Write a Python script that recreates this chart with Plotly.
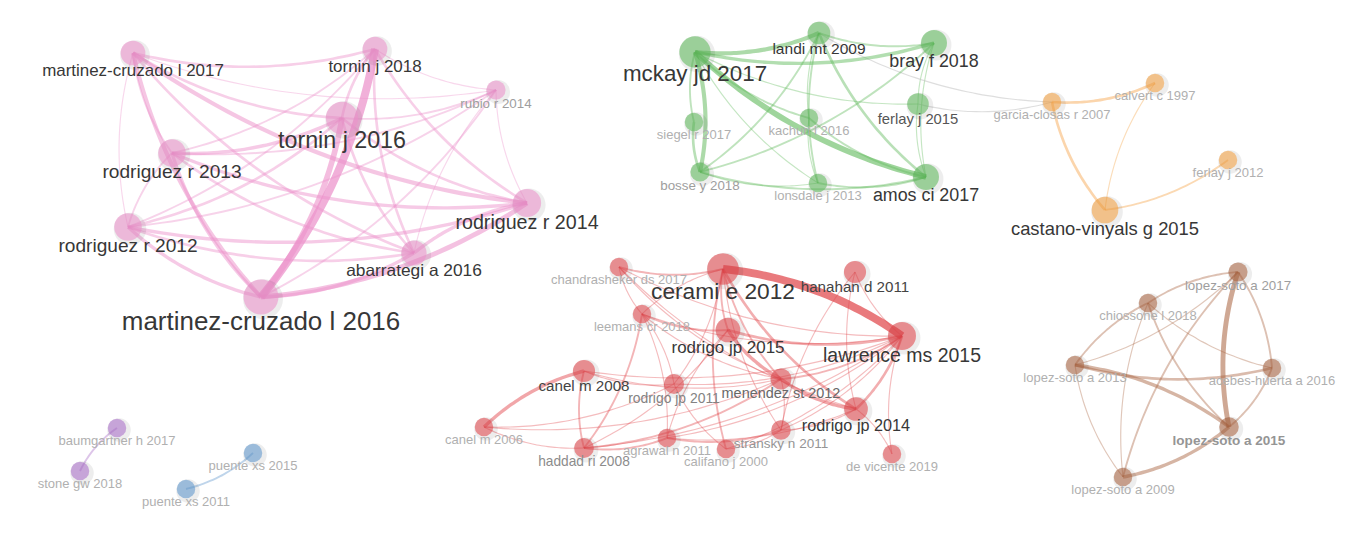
#!/usr/bin/env python3
# -*- coding: utf-8 -*-
"""
Mapa de co-citação (estilo VOSviewer) - referências agrupadas por cluster
"""

import numpy as np
import plotly.graph_objects as go

# Nós do mapa: id, rótulo, posição (coordenadas do mapa), peso e cluster
node_ids = [
    'mc17', 't18', 'ru14', 't16', 'r13', 'r14', 'r12', 'a16', 'm16',
    'mck', 'lan', 'bra', 'fe15', 'sie', 'kac', 'bos', 'lon', 'amo',
    'gar', 'cal', 'fe12', 'cas',
    'cha', 'cer', 'han', 'lee', 'rj15', 'law', 'ca08', 'rj11', 'men',
    'rj14', 'ca06', 'had', 'agr', 'cf00', 'str', 'dev',
    'ls17', 'chi', 'ls13', 'ach', 'ls15', 'ls09',
    'bau', 'sto', 'pu15', 'pu11'
]

node_labels = [
    'martinez-cruzado l 2017', 'tornin j 2018', 'rubio r 2014', 'tornin j 2016',
    'rodriguez r 2013', 'rodriguez r 2014', 'rodriguez r 2012', 'abarrategi a 2016',
    'martinez-cruzado l 2016',
    'mckay jd 2017', 'landi mt 2009', 'bray f 2018', 'ferlay j 2015', 'siegel r 2017',
    'kachuri l 2016', 'bosse y 2018', 'lonsdale j 2013', 'amos ci 2017',
    'garcia-closas r 2007', 'calvert c 1997', 'ferlay j 2012', 'castano-vinyals g 2015',
    'chandrasheker ds 2017', 'cerami e 2012', 'hanahan d 2011', 'leemans cr 2018',
    'rodrigo jp 2015', 'lawrence ms 2015', 'canel m 2008', 'rodrigo jp 2011',
    'menendez st 2012', 'rodrigo jp 2014', 'canel m 2006', 'haddad ri 2008',
    'agrawal n 2011', 'califano j 2000', 'stransky n 2011', 'de vicente 2019',
    'lopez-soto a 2017', 'chiossone l 2018', 'lopez-soto a 2013', 'acebes-huerta a 2016',
    'lopez-soto a 2015', 'lopez-soto a 2009',
    'baumgartner h 2017', 'stone gw 2018', 'puente xs 2015', 'puente xs 2011'
]

node_x = [
    133, 375, 496, 342, 172, 527, 128, 414, 261,
    695, 819, 934, 918, 694, 809, 700, 818, 926,
    1052, 1155, 1228, 1105,
    619, 723, 855, 642, 728, 902, 584, 674, 781,
    856, 484, 584, 667, 726, 781, 892,
    1238, 1148, 1075, 1272, 1229, 1123,
    117, 80, 253, 186
]

node_y = [
    53, 49, 90, 118, 153, 203, 227, 253, 297,
    52, 33, 43, 104, 122, 118, 172, 183, 177,
    102, 83, 160, 210,
    267, 269, 272, 314, 330, 336, 371, 384, 379,
    409, 427, 448, 438, 449, 430, 454,
    272, 303, 365, 368, 427, 477,
    428, 471, 453, 489
]

node_weight = [
    50, 50, 30, 85, 62, 65, 62, 52, 100,
    80, 42, 55, 38, 28, 28, 30, 28, 55,
    28, 28, 28, 58,
    28, 82, 40, 28, 50, 64, 40, 33, 36,
    46, 28, 32, 28, 28, 31, 28,
    30, 28, 28, 28, 31, 28,
    28, 28, 28, 28
]

node_cluster = [
    0, 0, 0, 0, 0, 0, 0, 0, 0,
    1, 1, 1, 1, 1, 1, 1, 1, 1,
    2, 2, 2, 2,
    3, 3, 3, 3, 3, 3, 3, 3, 3,
    3, 3, 3, 3, 3, 3, 3,
    4, 4, 4, 4, 4, 4,
    5, 5, 6, 6
]

# Cores dos clusters (rosa, verde, laranja, vermelho, marrom, roxo, azul)
cluster_colors = [
    (236, 145, 202), (95, 185, 90), (245, 160, 65), (225, 70, 75),
    (170, 100, 65), (170, 110, 200), (95, 150, 205)
]

# Ligações: origem, destino, força
links = [
    # cluster rosa
    ('m16', 't18', 10), ('m16', 't16', 7), ('mc17', 'm16', 5), ('r12', 'm16', 4),
    ('r13', 'm16', 4), ('m16', 'r14', 6), ('m16', 'a16', 4), ('r14', 'a16', 4),
    ('mc17', 't18', 3), ('mc17', 't16', 3), ('mc17', 'r14', 5), ('mc17', 'r13', 2),
    ('mc17', 'r12', 1), ('mc17', 'a16', 3), ('mc17', 'ru14', 1),
    ('t18', 't16', 3), ('t18', 'ru14', 1), ('t18', 'r14', 3), ('t18', 'a16', 3),
    ('r13', 't18', 2), ('r12', 't18', 2),
    ('t16', 'ru14', 2), ('t16', 'r14', 3), ('t16', 'a16', 3), ('r13', 't16', 4),
    ('r12', 't16', 3), ('r13', 'r14', 4), ('r12', 'r14', 4), ('r13', 'a16', 3),
    ('r12', 'a16', 3), ('r13', 'ru14', 2), ('r12', 'ru14', 2), ('r13', 'r12', 2),
    ('ru14', 'r14', 1), ('ru14', 'a16', 1), ('m16', 'ru14', 2),
    # cluster verde
    ('mck', 'amo', 7), ('mck', 'lan', 5), ('mck', 'bra', 4), ('bos', 'mck', 5),
    ('mck', 'sie', 2), ('mck', 'kac', 2), ('mck', 'lon', 1), ('lan', 'amo', 3),
    ('bos', 'lan', 2), ('bos', 'bra', 2), ('lan', 'lon', 2), ('lan', 'kac', 1),
    ('lan', 'bra', 2), ('bra', 'fe15', 1), ('bra', 'amo', 1), ('fe15', 'amo', 1),
    ('bos', 'amo', 2), ('bos', 'lon', 1), ('lon', 'amo', 2), ('kac', 'amo', 2),
    ('kac', 'lon', 1), ('sie', 'bos', 3), ('mck', 'fe15', 1),
    ('lan', 'gar', 1), ('fe15', 'gar', 1),
    # cluster laranja
    ('gar', 'cal', 3), ('gar', 'cas', 3), ('cal', 'cas', 1), ('cas', 'fe12', 2),
    # cluster vermelho
    ('law', 'cer', 10), ('cer', 'rj14', 3), ('cha', 'cer', 2), ('cer', 'rj15', 2),
    ('cer', 'cf00', 2), ('cer', 'men', 2), ('cer', 'lee', 1), ('rj11', 'cer', 1),
    ('cer', 'str', 1), ('rj15', 'law', 3), ('rj15', 'men', 4), ('men', 'rj14', 4),
    ('rj14', 'law', 3), ('men', 'law', 2), ('had', 'law', 1), ('agr', 'law', 1),
    ('str', 'law', 1), ('ca08', 'law', 1), ('law', 'dev', 1), ('rj11', 'law', 1),
    ('cha', 'law', 1), ('lee', 'law', 1), ('cf00', 'law', 1), ('han', 'str', 1),
    ('han', 'rj14', 1), ('han', 'law', 1),
    ('ca08', 'ca06', 4), ('ca06', 'had', 1), ('ca06', 'rj11', 1), ('ca06', 'men', 1),
    ('ca08', 'had', 2), ('ca08', 'rj11', 1), ('ca08', 'men', 1), ('had', 'agr', 2),
    ('had', 'lee', 2), ('had', 'rj15', 1), ('had', 'men', 2), ('agr', 'str', 2),
    ('agr', 'lee', 1), ('agr', 'rj14', 1), ('cha', 'lee', 1), ('cha', 'men', 1),
    ('cha', 'rj14', 1), ('lee', 'men', 1), ('lee', 'rj15', 2), ('rj11', 'lee', 1),
    ('rj11', 'cf00', 1), ('str', 'men', 1), ('cf00', 'str', 1), ('dev', 'rj14', 1),
    ('str', 'rj14', 1), ('rj15', 'agr', 1),
    # cluster marrom
    ('chi', 'ls13', 2), ('ls17', 'chi', 2), ('ls17', 'ls15', 6), ('ach', 'ls17', 2),
    ('ls17', 'ls09', 2), ('chi', 'ls15', 2), ('chi', 'ls09', 1), ('chi', 'ach', 1),
    ('ls13', 'ach', 3), ('ls15', 'ls13', 4), ('ls13', 'ls09', 1), ('ls09', 'ls15', 4),
    ('ls15', 'ach', 2), ('ls13', 'ls17', 1),
    # clusters roxo e azul
    ('bau', 'sto', 2), ('pu11', 'pu15', 2),
]

idx = {n: i for i, n in enumerate(node_ids)}
w = np.array(node_weight, dtype=float)
raio = 1.75 * np.sqrt(w)
fonte = 13 + 0.18 * (w - 28)
cinza = np.clip(176 - (w - 28) * 9, 55, 176).astype(int)


def rgba(c, a):
    return f'rgba({c[0]},{c[1]},{c[2]},{a})'


fig = go.Figure()

# Ligações curvas (bezier quadrática), das mais fracas para as mais fortes
t = np.linspace(0, 1, 24)
for a, b, s in sorted(links, key=lambda l: l[2]):
    i, j = idx[a], idx[b]
    x0, y0, x2, y2 = node_x[i], node_y[i], node_x[j], node_y[j]
    dx, dy = x2 - x0, y2 - y0
    x1 = (x0 + x2) / 2 - 0.13 * dy
    y1 = (y0 + y2) / 2 + 0.13 * dx
    bx = (1 - t) ** 2 * x0 + 2 * (1 - t) * t * x1 + t ** 2 * x2
    by = (1 - t) ** 2 * y0 + 2 * (1 - t) * t * y1 + t ** 2 * y2
    if node_cluster[i] == node_cluster[j]:
        cor = rgba(cluster_colors[node_cluster[i]], round(0.32 + 0.04 * s, 2))
    else:
        cor = 'rgba(195,195,195,0.55)'
    fig.add_trace(go.Scatter(
        x=bx, y=by, mode='lines',
        line=dict(color=cor, width=0.4 + 0.75 * s, shape='spline'),
        hoverinfo='skip', showlegend=False
    ))

# Sombra dos nós
fig.add_trace(go.Scatter(
    x=np.array(node_x) + 2, y=np.array(node_y) + 2, mode='markers',
    marker=dict(size=2 * raio + 5, color='rgba(0,0,0,0.10)', line=dict(width=0)),
    hoverinfo='skip', showlegend=False
))

# Nós
fig.add_trace(go.Scatter(
    x=node_x, y=node_y, mode='markers',
    marker=dict(
        size=2 * raio,
        color=[rgba(cluster_colors[c], 0.82) for c in node_cluster],
        line=dict(width=0)
    ),
    text=node_labels,
    hovertemplate='<b>%{text}</b><extra></extra>',
    showlegend=False
))

# Rótulos abaixo dos nós
rotulos = [f'<b>{l}</b>' if l == 'lopez-soto a 2015' else l for l in node_labels]
fig.add_trace(go.Scatter(
    x=node_x, y=np.array(node_y) + raio + 0.36 * fonte, mode='text',
    text=rotulos, textposition='middle center',
    textfont=dict(
        family='Liberation Sans, Arial, sans-serif',
        size=list(fonte),
        color=[f'rgb({g},{g},{g})' for g in cinza]
    ),
    hoverinfo='skip', showlegend=False
))

# A página tem 8px de margem: o gráfico ocupa de (8, 8) até (1338, 533)
fig.update_layout(
    width=1330, height=525,
    margin=dict(l=0, r=0, t=0, b=0),
    paper_bgcolor='white', plot_bgcolor='white',
    xaxis=dict(range=[8, 1338], visible=False, fixedrange=True),
    yaxis=dict(range=[533, 8], visible=False, fixedrange=True),
)

fig.write_html('out.html')
print('Mapa salvo em: out.html')
